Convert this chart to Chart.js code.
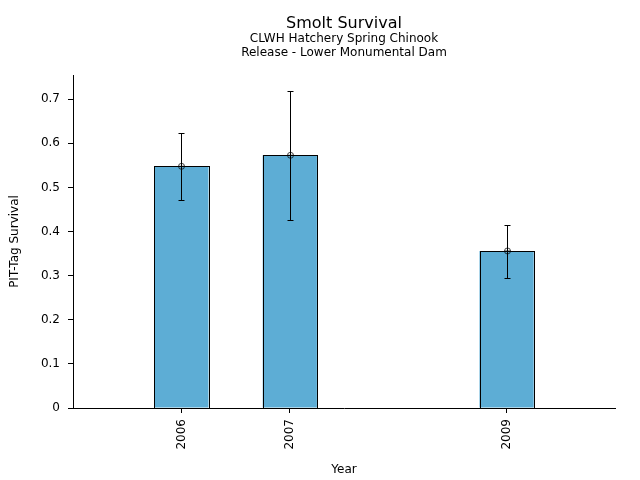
<!DOCTYPE html>
<html>
<head>
<meta charset="utf-8">
<script src="https://cdn.jsdelivr.net/npm/chart.js@4/dist/chart.umd.min.js"></script>
<style>
  body { margin: 0; background: #fff; }
  canvas { display: block; }
</style>
</head>
<body>
<canvas id="chart" width="640" height="480"></canvas>
<script>
// values
const years = [2006, 2007, 2009];
const survival = [0.548, 0.573, 0.356];
const lowerCI = [0.471, 0.426, 0.295];
const upperCI = [0.623, 0.718, 0.414];
const yTicks = [0, 0.1, 0.2, 0.3, 0.4, 0.5, 0.6, 0.7];

const titleText = "Smolt Survival";
const subtitleLines = ["CLWH Hatchery Spring Chinook", "Release - Lower Monumental Dam"];

const FONT = "'DejaVu Sans', sans-serif";

const titlePlugin = {
    id: "titles",
    afterDraw(chart) {
        const ctx = chart.ctx;
        const area = chart.chartArea;
        const cx = (area.left + area.right) / 2;
        ctx.save();
        ctx.fillStyle = "#000";
        ctx.textAlign = "center";
        ctx.textBaseline = "alphabetic";
        ctx.font = "16px " + FONT;
        ctx.fillText(titleText, cx, 28);
        ctx.font = "12px " + FONT;
        ctx.fillText(subtitleLines[0], cx, 42);
        ctx.fillText(subtitleLines[1], cx, 56);
        ctx.restore();
    }
};

// crisp bar outlines + error bars with circle markers
const errorBarPlugin = {
    id: "errorBars",
    afterDatasetsDraw(chart) {
        const ctx = chart.ctx;
        const xs = chart.scales.x, ys = chart.scales.y;
        ctx.save();
        ctx.lineWidth = 1;
        ctx.strokeStyle = "#000";
        chart.getDatasetMeta(0).data.forEach(el => {
            const l = Math.round(el.x - el.width / 2) + 0.5;
            const r = Math.round(el.x + el.width / 2) + 0.5;
            const t = Math.round(el.y) + 0.5;
            const b = Math.round(el.base) + 0.5;
            ctx.strokeRect(l, t, r - l, b - t);
        });
        years.forEach((yr, i) => {
            const x = Math.round(xs.getPixelForValue(yr)) + 0.5;
            const lo = Math.round(ys.getPixelForValue(lowerCI[i])) + 0.5;
            const hi = Math.round(ys.getPixelForValue(upperCI[i])) + 0.5;
            const mid = ys.getPixelForValue(survival[i]);
            ctx.strokeStyle = "#000";
            ctx.beginPath();
            ctx.moveTo(x, lo); ctx.lineTo(x, hi);
            ctx.moveTo(x - 3, lo); ctx.lineTo(x + 3, lo);
            ctx.moveTo(x - 3, hi); ctx.lineTo(x + 3, hi);
            ctx.stroke();
            ctx.strokeStyle = "rgba(0,0,0,0.7)";
            ctx.beginPath();
            ctx.arc(x, mid, 3, 0, Math.PI * 2);
            ctx.moveTo(x - 3, mid); ctx.lineTo(x + 3, mid);
            ctx.stroke();
        });
        ctx.restore();
    }
};

new Chart(document.getElementById("chart"), {
    type: "bar",
    data: {
        datasets: [{
            data: years.map((y, i) => ({ x: y, y: survival[i] })),
            backgroundColor: "#5dadd5",
            borderWidth: 0,
            barPercentage: 0.5,
            categoryPercentage: 1
        }]
    },
    options: {
        responsive: false,
        animation: false,
        devicePixelRatio: 1,
        layout: { padding: { left: 0, right: 25, top: 75, bottom: 0 } },
        plugins: {
            legend: { display: false },
            tooltip: { enabled: false }
        },
        scales: {
            x: {
                type: "linear",
                min: 2005,
                max: 2010,
                offset: false,
                afterFit: s => { s.height = 72; },
                afterBuildTicks: s => { s.ticks = years.map(v => ({ value: v })); },
                grid: { display: true, drawOnChartArea: false, offset: false, tickLength: 5, tickColor: "#000" },
                border: { display: true, color: "#000", width: 1 },
                ticks: {
                    color: "#000",
                    font: { family: FONT, size: 12 },
                    minRotation: 90,
                    maxRotation: 90,
                    padding: 6,
                    autoSkip: false,
                    callback: v => String(v)
                },
                title: {
                    display: true,
                    text: "Year",
                    color: "#000",
                    font: { family: FONT, size: 12 },
                    padding: { top: 4, bottom: 3 }
                }
            },
            y: {
                min: 0,
                max: 0.755,
                afterFit: s => { s.width = 73; },
                afterBuildTicks: s => { s.ticks = yTicks.map(v => ({ value: v })); },
                grid: { display: true, drawOnChartArea: false, tickLength: 5, tickColor: "#000" },
                border: { display: true, color: "#000", width: 1 },
                ticks: {
                    color: "#000",
                    font: { family: FONT, size: 12 },
                    padding: 8,
                    callback: v => v === 0 ? "0" : v.toFixed(1)
                },
                title: {
                    display: true,
                    text: "PIT-Tag Survival",
                    color: "#000",
                    font: { family: FONT, size: 12 },
                    padding: { top: 8, bottom: 4 }
                }
            }
        }
    },
    plugins: [titlePlugin, errorBarPlugin]
});
</script>
</body>
</html>
